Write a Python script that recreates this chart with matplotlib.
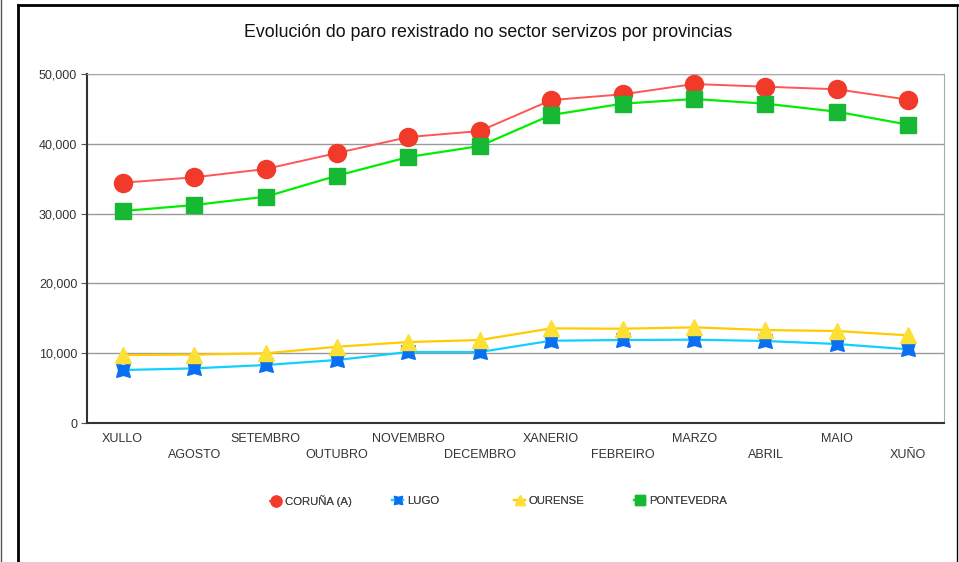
#importing the required libraries
import numpy as np
from matplotlib import pyplot as plt
from matplotlib.lines import Line2D

plt.rcParams['font.family'] = ['Liberation Sans', 'DejaVu Sans']

#months and registered unemployment per province
months = ['XULLO', 'AGOSTO', 'SETEMBRO', 'OUTUBRO', 'NOVEMBRO', 'DECEMBRO',
          'XANERIO', 'FEBREIRO', 'MARZO', 'ABRIL', 'MAIO', 'XUÑO']
coruna = [34430, 35200, 36390, 38680, 40970, 41830, 46270, 47090, 48570, 48180, 47810, 46320]
lugo = [7590, 7830, 8310, 9030, 10170, 10170, 11790, 11890, 11940, 11750, 11320, 10560]
ourense = [9740, 9800, 9980, 10930, 11600, 11890, 13560, 13510, 13710, 13320, 13180, 12560]
pontevedra = [30370, 31230, 32420, 35430, 38110, 39680, 44130, 45750, 46420, 45750, 44600, 42740]

x = np.arange(len(months))

fig = plt.figure(figsize=(9.59, 5.62), dpi=100)
ax = fig.add_axes([0.0907, 0.2473, 0.8937, 0.621])

#series: line colour, marker, marker colour, marker size
lines = []
lines.append(ax.plot(x, coruna, color='#ff5555', lw=1.4, marker='o', ms=13,
                     mfc='#f23a2a', mec='#f23a2a', label='CORUÑA (A)', zorder=3)[0])
lines.append(ax.plot(x, lugo, color='#11d0ff', lw=1.6, marker=(4, 1, 45), ms=14,
                     mfc='#0a6ff0', mec='#0a6ff0', label='LUGO', zorder=3)[0])
lines.append(ax.plot(x, ourense, color='#ffcc00', lw=1.6, marker='^', ms=12,
                     mfc='#fde035', mec='#fde035', label='OURENSE', zorder=4)[0])
lines.append(ax.plot(x, pontevedra, color='#00ee00', lw=1.6, marker='s', ms=11.5,
                     mfc='#17b934', mec='#17b934', label='PONTEVEDRA', zorder=3)[0])

ax.set_xlim(-0.5, 11.5)
ax.set_ylim(0, 50000)
ax.set_yticks([0, 10000, 20000, 30000, 40000, 50000])
ax.set_yticklabels(['0', '10,000', '20,000', '30,000', '40,000', '50,000'])
ax.yaxis.grid(True, color='#999999', lw=1)
ax.set_axisbelow(True)

ax.set_xticks(x)
ax.set_xticklabels(['' for m in months])
for i, m in enumerate(months):
    ax.text(i, -1500 if i % 2 == 0 else -3700, m, ha='center', va='top',
            fontsize=9, color='#333333')
ax.tick_params(axis='x', length=0)
ax.tick_params(axis='y', length=4, color='#555555', labelsize=9,
               labelcolor='#333333', pad=3)

ax.spines['left'].set_color('#333333')
ax.spines['bottom'].set_color('#333333')
ax.spines['left'].set_linewidth(1.5)
ax.spines['bottom'].set_linewidth(1.5)
ax.spines['top'].set_color('#aaaaaa')
ax.spines['right'].set_color('#aaaaaa')

fig.text(0.509, 0.943, 'Evolución do paro rexistrado no sector servizos por provincias',
         ha='center', va='center', fontsize=12.8, color='#111111')

#legend entries evenly spaced
leg_x = [270, 392, 514, 634]
for ln, lx in zip(lines, leg_x):
    lg = fig.legend(handles=[ln], loc='center left', bbox_to_anchor=(lx / 959, 0.108),
                    frameon=False, fontsize=8.2, handlelength=1.0, handletextpad=0.3,
                    markerscale=0.6, labelcolor='#444444', borderpad=0, borderaxespad=0)
    fig.add_artist(lg)

#outer frame lines
fig.add_artist(Line2D([18/959, 18/959], [0, 1 - 5/562], transform=fig.transFigure, color='black', lw=2))
fig.add_artist(Line2D([18/959, 957/959], [1 - 5/562, 1 - 5/562], transform=fig.transFigure, color='black', lw=2))
fig.add_artist(Line2D([957/959, 957/959], [0, 1 - 5/562], transform=fig.transFigure, color='black', lw=1))
fig.add_artist(Line2D([1/959, 1/959], [0, 1], transform=fig.transFigure, color='#555555', lw=1))

plt.savefig('out.png', dpi=100)
